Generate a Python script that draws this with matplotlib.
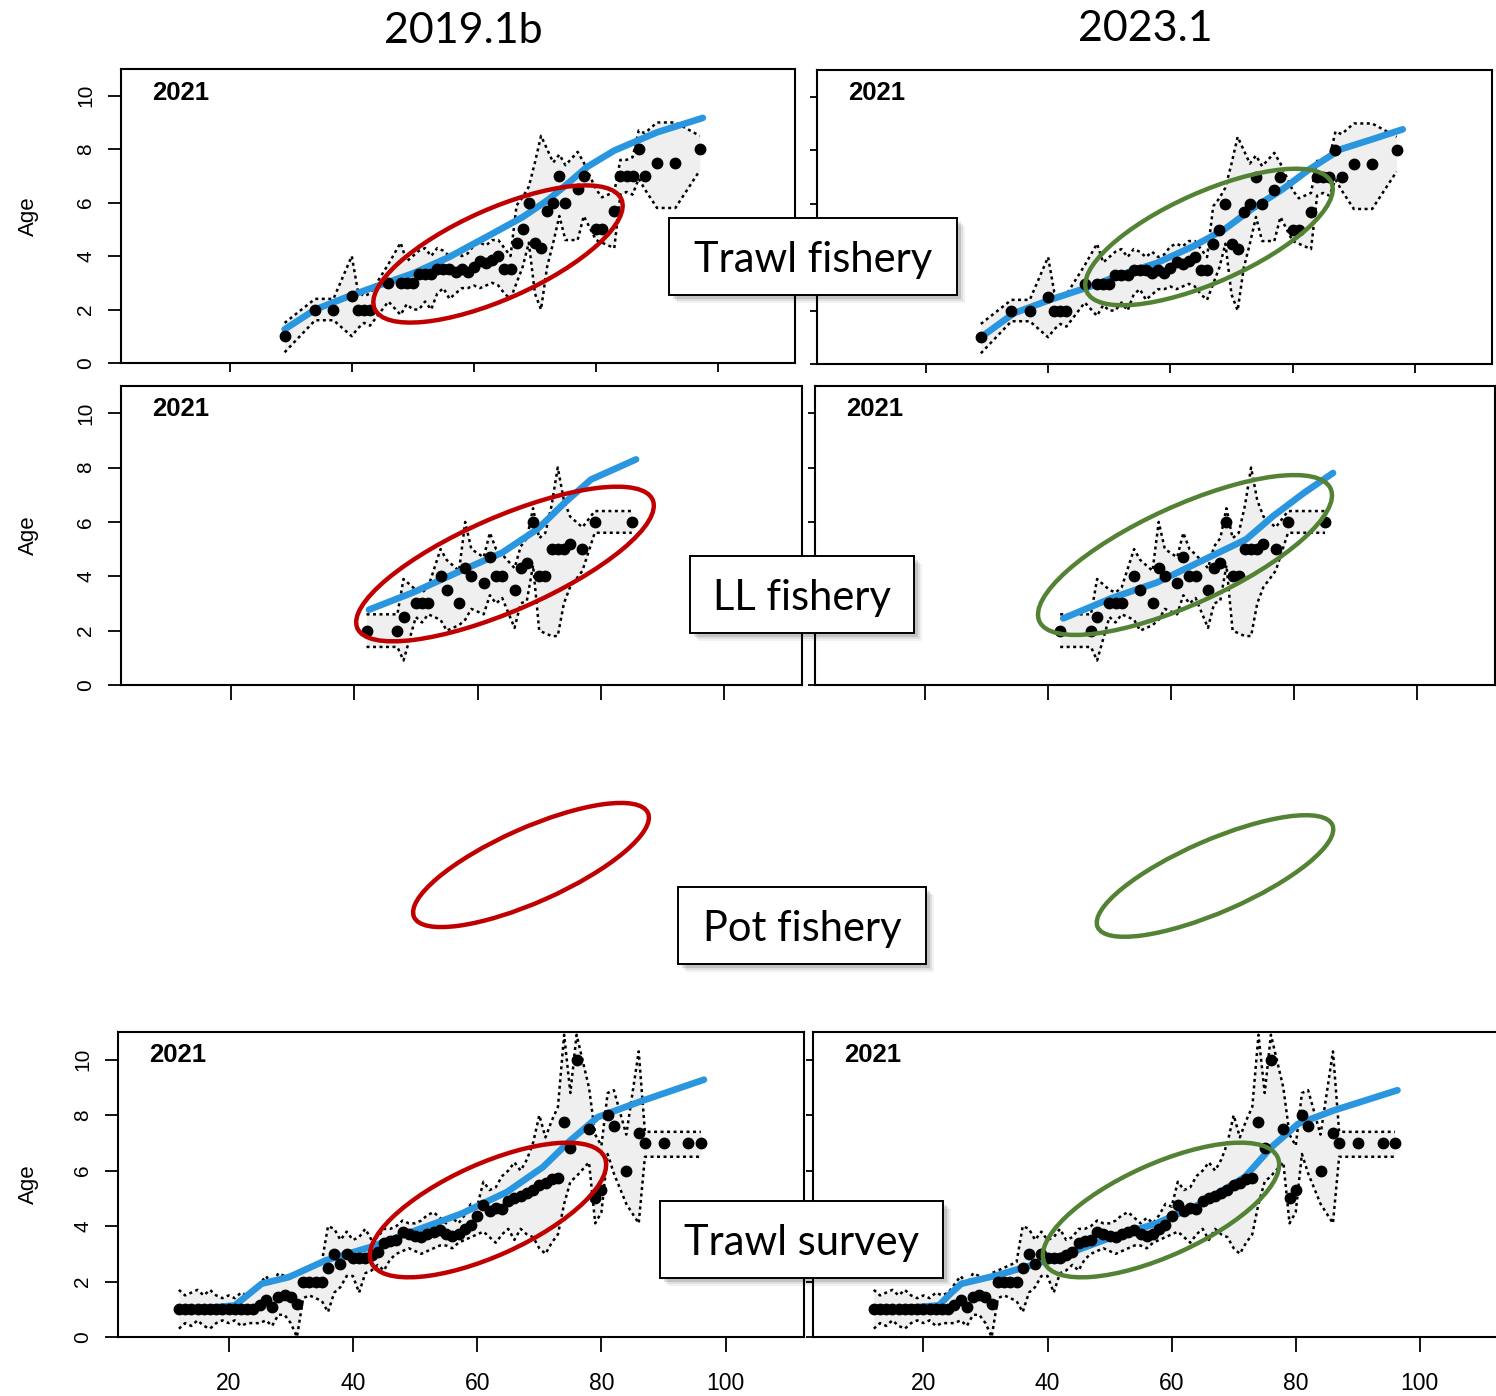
import matplotlib
matplotlib.use('Agg')
import matplotlib.pyplot as plt
from matplotlib.patches import Ellipse, Rectangle

plt.rcParams['font.family'] = ['Liberation Sans', 'DejaVu Sans']

W, H = 1496, 1396

# trawl fishery: length bin, observed mean age, band low, band high
TF_LEN = [29, 34, 37, 40, 41, 42, 43, 46, 48, 49, 50, 51, 52, 53, 54, 55, 56, 57, 58, 59,
          60, 61, 62, 63, 64, 65, 66, 67, 68, 69, 70, 71, 72, 73, 74, 75, 77, 78, 80, 81,
          83, 84, 85, 86, 87, 88, 90, 93, 97]
TF_AGE = [1.0, 2.0, 2.0, 2.5, 2.0, 2.0, 2.0, 3.0, 3.0, 3.0, 3.0, 3.33, 3.33, 3.33, 3.5, 3.5,
          3.5, 3.4, 3.5, 3.4, 3.6, 3.8, 3.75, 3.85, 4.0, 3.5, 3.5, 4.5, 5.0, 6.0, 4.5, 4.3,
          5.7, 6.0, 7.0, 6.0, 6.5, 7.0, 5.0, 5.0, 5.7, 7.0, 7.0, 7.0, 8.0, 7.0, 7.5, 7.5, 8.0]
TF_LO = [0.4, 1.6, 1.6, 1.0, 1.3, 1.5, 1.4, 2.3, 1.8, 2.2, 2.0, 2.0, 2.3, 2.0, 2.6, 2.8,
         2.4, 2.6, 2.8, 2.8, 2.9, 2.8, 2.9, 3.0, 2.9, 2.6, 2.4, 3.0, 3.6, 4.5, 2.6, 2.0,
         3.6, 4.5, 5.5, 4.6, 4.6, 5.5, 4.6, 4.5, 4.3, 6.3, 6.4, 6.3, 6.9, 6.5, 5.8, 5.8, 7.2]
TF_HI = [1.5, 2.4, 2.4, 4.0, 2.7, 2.5, 2.6, 3.7, 4.5, 3.8, 4.0, 4.2, 4.3, 4.0, 4.3, 4.2,
         4.0, 4.2, 4.0, 4.1, 4.4, 4.5, 4.4, 4.6, 4.6, 4.3, 4.0, 5.9, 6.2, 6.6, 7.5, 8.5,
         8.0, 7.5, 7.8, 7.4, 7.9, 7.5, 6.5, 6.2, 6.4, 7.6, 7.6, 7.7, 8.7, 8.6, 9.0, 9.0, 8.5]
TF_FIT19_LEN = [29, 34, 40, 46, 50, 56, 62, 68, 72, 75, 78.5, 83, 90, 97.5]
TF_FIT19_AGE = [1.26, 2.0, 2.54, 3.03, 3.35, 3.97, 4.71, 5.46, 6.08, 6.64, 7.33, 7.95, 8.63, 9.17]
TF_FIT23_LEN = [29.6, 34.4, 40.3, 46.9, 52, 57.8, 63.7, 68.8, 73.2, 78.3, 82.7, 87.8, 92.9, 98]
TF_FIT23_AGE = [1.1, 1.9, 2.4, 2.9, 3.35, 3.78, 4.4, 5.03, 5.78, 6.53, 7.28, 8.03, 8.4, 8.78]

# longline fishery
LL_LEN = [42, 47, 48, 50, 51, 52, 54, 55, 57, 58, 59, 61, 62, 63, 64, 66, 67, 68, 69, 70,
          71, 72, 73, 74, 75, 77, 79, 85]
LL_AGE = [2.0, 2.0, 2.5, 3.0, 3.0, 3.0, 4.0, 3.5, 3.0, 4.3, 4.0, 3.75, 4.7, 4.0, 4.0, 3.5,
          4.3, 4.5, 6.0, 4.0, 4.0, 5.0, 5.0, 5.0, 5.2, 5.0, 6.0, 6.0]
LL_LO = [1.4, 1.4, 0.9, 2.5, 2.3, 2.6, 2.4, 2.0, 2.2, 2.4, 2.8, 2.6, 3.3, 3.0, 3.2, 2.1,
         3.0, 3.1, 4.4, 2.0, 1.9, 1.8, 1.8, 3.0, 3.6, 4.2, 5.6, 5.6]
LL_HI = [2.6, 2.6, 3.9, 3.5, 3.4, 3.6, 5.0, 4.6, 4.2, 6.0, 5.0, 4.7, 5.6, 5.0, 4.8, 4.3,
         5.1, 5.4, 6.5, 5.4, 5.6, 6.6, 8.0, 6.8, 6.2, 5.8, 6.4, 6.4]
LL_FIT19_LEN = [42.4, 49.5, 56.7, 64, 69.7, 74.1, 78.4, 85.7]
LL_FIT19_AGE = [2.77, 3.4, 4.14, 4.87, 5.73, 6.7, 7.56, 8.3]
LL_FIT23_LEN = [42.5, 50.4, 57.7, 65, 72.2, 76.5, 81.6, 86.3]
LL_FIT23_AGE = [2.45, 3.2, 3.77, 4.57, 5.36, 6.2, 7.07, 7.8]

# trawl survey
TS_LEN = [12, 13, 14, 15, 16, 17, 18, 19, 20, 21, 22, 23, 24, 25, 26, 27, 28, 29, 30, 31,
          32, 33, 34, 35, 36, 37, 38, 39, 40, 41, 42, 43, 44, 45, 46, 47, 48, 49, 50, 51,
          52, 53, 54, 55, 56, 57, 58, 59, 60, 61, 62, 63, 64, 65, 66, 67, 68, 69, 70, 71,
          72, 73, 74, 75, 76, 78, 79, 80, 81, 82, 84, 86, 87, 90, 94, 96]
TS_AGE = [1.0, 1.0, 1.0, 1.0, 1.0, 1.0, 1.0, 1.0, 1.0, 1.0, 1.0, 1.0, 1.0,
          1.14, 1.32, 1.1, 1.45, 1.5, 1.45, 1.2, 2.0, 2.0, 2.0, 2.0,
          2.5, 3.0, 2.65, 3.0, 2.85, 2.85, 2.85, 2.95, 3.05, 3.4, 3.45, 3.5,
          3.8, 3.7, 3.65, 3.6, 3.7, 3.8, 3.85, 3.7, 3.65, 3.7, 3.9, 4.05,
          4.35, 4.75, 4.55, 4.65, 4.6, 4.9, 5.0, 5.1, 5.2, 5.3, 5.5, 5.55,
          5.7, 5.75, 7.75, 6.8, 10.0,
          7.5, 5.0, 5.3, 8.0, 7.6, 6.0, 7.35, 7.0, 7.0, 7.0, 7.0]
TS_LO = [0.3, 0.5, 0.4, 0.6, 0.4, 0.3, 0.5, 0.6, 0.5, 0.6, 0.4, 0.5, 0.5,
         0.5, 0.6, 0.4, 0.8, 0.8, 0.5, 0.0, 1.4, 1.5, 1.4, 1.3,
         0.9, 1.6, 1.8, 2.2, 2.2, 1.6, 2.3, 2.4, 2.6, 2.4, 2.8, 3.0,
         3.1, 3.2, 3.1, 3.0, 3.1, 3.2, 3.3, 3.3, 3.2, 3.4, 3.5, 3.6,
         3.7, 3.8, 3.6, 3.4, 3.7, 3.9, 3.5, 3.9, 3.7, 3.6, 3.2, 3.0,
         3.4, 3.7, 4.8, 5.6, 5.8,
         6.3, 4.1, 4.5, 6.6, 5.9, 4.8, 4.1, 6.5, 6.5, 6.5, 6.5]
TS_HI = [1.7, 1.5, 1.6, 1.7, 1.5, 1.7, 1.5, 1.4, 1.5, 1.4, 1.6, 1.5, 1.6,
         1.9, 2.2, 1.9, 2.3, 2.2, 2.1, 2.3, 2.4, 2.5, 2.6, 2.7,
         4.0, 3.9, 3.5, 3.8, 3.5, 3.6, 3.9, 3.5, 3.6, 3.9, 3.9, 4.0,
         4.2, 4.1, 4.1, 4.2, 4.4, 4.5, 4.3, 4.1, 4.3, 4.1, 4.4, 4.8,
         4.7, 5.6, 5.3, 5.4, 5.8, 6.0, 6.3, 6.0, 6.4, 7.0, 8.0, 7.2,
         7.8, 8.3, 10.9, 8.8, 10.9,
         9.0, 7.3, 6.9, 8.8, 8.9, 7.3, 10.3, 7.4, 7.4, 7.4, 7.4]
TS_FIT19_LEN = [13, 21, 23, 25.3, 29.7, 35.6, 42.9, 50.2, 57.5, 64.8, 70.6, 75, 79.4, 86.7, 96.5]
TS_FIT19_AGE = [0.96, 1.14, 1.5, 1.92, 2.16, 2.76, 3.25, 3.85, 4.45, 5.23, 6.13, 7.09, 7.93, 8.53, 9.28]
TS_FIT23_LEN = [12.5, 22.5, 24.3, 26.1, 31.8, 38.2, 43.2, 50.4, 57.5, 64.6, 71.8, 76.1, 80.4, 86.1, 96.4]
TS_FIT23_AGE = [0.96, 1.14, 1.55, 1.92, 2.22, 2.64, 3.0, 3.6, 4.09, 4.8, 5.77, 6.85, 7.69, 8.17, 8.9]

X_TICKS = [20, 40, 60, 80, 100]
Y_TICKS = [0, 2, 4, 6, 8, 10]
COLUMNS = ['2019.1b', '2023.1']
YEAR = '2021'

fig = plt.figure(figsize=(W / 100, H / 100), dpi=100)


def panel(box, lens, ages, lo, hi, fit_len, fit_age, left_col, xlen, xlabels):
    l, t, r, b = box
    ax = fig.add_axes([l / W, 1 - b / H, (r - l) / W, (b - t) / H])
    ax.fill_between(lens, lo, hi, color='#efefef', lw=0, zorder=1)
    ax.plot(lens, lo, color='black', lw=1.8, ls=(0, (1.2, 1.4)), zorder=2)
    ax.plot(lens, hi, color='black', lw=1.8, ls=(0, (1.2, 1.4)), zorder=2)
    ax.plot(fit_len, fit_age, color='#2a96e0', lw=4.8, solid_capstyle='round',
            solid_joinstyle='round', zorder=3)
    ax.plot(lens, ages, 'o', color='black', ms=7.5, zorder=4)
    ax.set_xlim(2.2, 112.6)
    ax.set_ylim(0, 11)
    ax.set_xticks(X_TICKS)
    ax.set_yticks(Y_TICKS)
    for s in ax.spines.values():
        s.set_linewidth(1.5)
    ax.tick_params(axis='x', direction='out', length=xlen, width=1.3, pad=14,
                   labelsize=16.5, labelbottom=xlabels)
    if left_col:
        ax.tick_params(axis='y', direction='out', length=9.5, width=1.3, pad=9,
                       labelsize=15, labelrotation=90)
        for lab in ax.get_yticklabels():
            lab.set_va('center')
        fig.text(28 / W, 1 - (t + b) / 2 / H, 'Age', rotation=90, ha='center',
                 va='center', fontsize=16)
    else:
        ax.tick_params(axis='y', direction='out', length=5, width=1.3, labelleft=False)
    fig.text((l + 31) / W, 1 - (t + 30.5) / H, YEAR, fontsize=18.5, fontweight='bold',
             ha='left', va='baseline')
    return ax


panel((121, 69, 795, 363), TF_LEN, TF_AGE, TF_LO, TF_HI, TF_FIT19_LEN, TF_FIT19_AGE, True, 6.5, False)
panel((817, 70, 1492, 364), TF_LEN, TF_AGE, TF_LO, TF_HI, TF_FIT23_LEN, TF_FIT23_AGE, False, 6.5, False)
panel((121, 386, 802, 685), LL_LEN, LL_AGE, LL_LO, LL_HI, LL_FIT19_LEN, LL_FIT19_AGE, True, 11, False)
panel((815, 386, 1495, 685), LL_LEN, LL_AGE, LL_LO, LL_HI, LL_FIT23_LEN, LL_FIT23_AGE, False, 11, False)
panel((118, 1032, 804, 1337), TS_LEN, TS_AGE, TS_LO, TS_HI, TS_FIT19_LEN, TS_FIT19_AGE, True, 11, True)
panel((813, 1032, 1498, 1337), TS_LEN, TS_AGE, TS_LO, TS_HI, TS_FIT23_LEN, TS_FIT23_AGE, False, 11, True)

fig.text(463 / W, 1 - 43 / H, COLUMNS[0], family='Lato', fontsize=31, ha='center', va='baseline')
fig.text(1145 / W, 1 - 41 / H, COLUMNS[1], family='Lato', fontsize=31, ha='center', va='baseline')

# overlay in pixel units for the hand-drawn ellipses and labels
ov = fig.add_axes([0, 0, 1, 1], zorder=10)
ov.set_xlim(0, W)
ov.set_ylim(H, 0)
ov.axis('off')

RED = '#c00000'
GREEN = '#548235'
ellipses = [
    (498, 254, 135, 45, 24, RED), (1209, 237, 134, 45, 24, GREEN),
    (505, 564, 161, 47, 23.5, RED), (1185, 555, 160, 49, 24.5, GREEN),
    (531, 865, 128, 37, 24, RED), (1215, 876, 128, 36, 23.5, GREEN),
    (488, 1210, 128, 46, 24.3, RED), (1161, 1210, 128, 46, 24.3, GREEN),
]
for cx, cy, a, b, ang, col in ellipses:
    ov.add_patch(Ellipse((cx, cy), 2 * a, 2 * b, angle=-ang, fill=False, ec=col, lw=3.2))

labels = [
    (669, 218, 957, 295, 'Trawl fishery'),
    (690, 556, 914, 633, 'LL fishery'),
    (678, 887, 926, 964, 'Pot fishery'),
    (660, 1201, 943, 1278, 'Trawl survey'),
]
for x0, y0, x1, y1, txt in labels:
    for k, al in ((8, 0.05), (6, 0.08), (4, 0.12)):
        ov.add_patch(Rectangle((x0 + k, y0 + k), x1 - x0, y1 - y0, fc='black', ec='none', alpha=al))
    ov.add_patch(Rectangle((x0, y0), x1 - x0, y1 - y0, fc='white', ec='black', lw=1.4))
    ov.text((x0 + x1) / 2, (y0 + y1) / 2 + 15.5, txt, family='Lato', fontsize=30,
            ha='center', va='baseline')

fig.savefig('out.png', dpi=100)
